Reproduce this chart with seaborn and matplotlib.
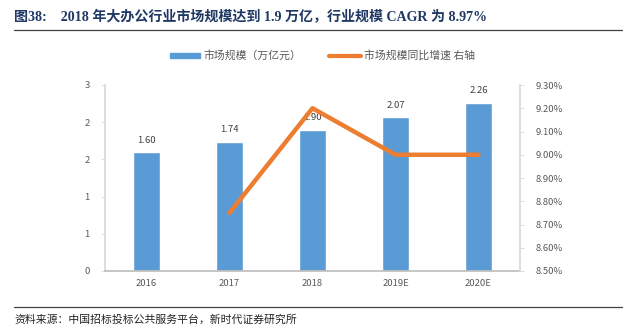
import matplotlib
matplotlib.use("Agg")
import matplotlib.pyplot as plt
import seaborn as sns
import pandas as pd
from matplotlib.ticker import FixedLocator, FuncFormatter
from matplotlib.patches import Rectangle
from matplotlib.lines import Line2D
import math

years = ["2016", "2017", "2018", "2019E", "2020E"]
market_size = [1.60, 1.74, 1.90, 2.07, 2.26]
growth_years = ["2017", "2018", "2019E", "2020E"]
growth_rate = [8.75, 9.20, 9.00, 9.00]
left_ticks = [0, 0.5, 1.0, 1.5, 2.0, 2.5]
right_ticks = [8.5, 8.6, 8.7, 8.8, 8.9, 9.0, 9.1, 9.2, 9.3]

sns.set_theme(style="white")
plt.rcParams['font.family'] = ['Noto Sans CJK SC', 'DejaVu Sans']

fig = plt.figure(figsize=(6.36, 3.31), dpi=100)
ax = fig.add_axes([105/636, 1-271/331, 415/636, (271-85)/331])

df = pd.DataFrame({"year": years, "size": market_size})
sns.barplot(data=df, x="year", y="size", color="#5B9BD5", width=0.33,
            saturation=1, ax=ax, order=years)
ax.set_xlim(-0.5, 4.5)
ax.set_ylim(0, 2.5)
ax.yaxis.set_major_locator(FixedLocator(left_ticks))
ax.yaxis.set_major_formatter(FuncFormatter(lambda v, p: str(int(math.floor(v + 0.5)))))
for i, v in enumerate(market_size):
    ax.text(i, v + 0.1, f"{v:.2f}", ha="center", va="bottom", fontsize=6.8, color="#404040")
ax.set_xlabel("")
ax.set_ylabel("")

gray = "#595959"
for s in ["top", "right"]:
    ax.spines[s].set_visible(False)
ax.spines["left"].set_color("#D9D9D9")
ax.spines["bottom"].set_color("#BFBFBF")
ax.tick_params(axis="y", labelsize=6.8, length=3, width=0.6, direction="out", left=True, pad=8,
               color="#D9D9D9", labelcolor=gray)
ax.tick_params(axis="x", labelsize=6.8, length=0, pad=6, labelcolor=gray)

ax2 = ax.twinx()
gdf = pd.DataFrame({"x": [years.index(y) for y in growth_years], "g": growth_rate})
sns.lineplot(data=gdf, x="x", y="g", color="#ED7D31", linewidth=3.2, ax=ax2)
ax2.set_ylim(8.5, 9.3)
ax2.yaxis.set_major_locator(FixedLocator(right_ticks))
ax2.yaxis.set_major_formatter(FuncFormatter(lambda v, p: f"{v:.2f}%"))
ax2.set_ylabel("")
ax2.set_xlabel("")
for s in ["top", "left", "bottom"]:
    ax2.spines[s].set_visible(False)
ax2.spines["right"].set_color("#D9D9D9")
ax2.tick_params(axis="y", labelsize=6.8, length=3, width=0.6, color="#D9D9D9", labelcolor=gray, right=True, pad=8)
ax.set_xlim(-0.5, 4.5)

# legend
fig.patches.append(Rectangle((170/636, 1-58/331), 30/636, 5/331, transform=fig.transFigure,
                             color="#5B9BD5", figure=fig))
fig.text(204/636, 1-55.5/331, "市场规模（万亿元）", fontsize=7.8, color=gray, va="center")
fig.lines.append(Line2D([329/636, 361/636], [1-55.5/331, 1-55.5/331], transform=fig.transFigure,
                        color="#ED7D31", linewidth=3, solid_capstyle="round"))
fig.text(364/636, 1-55.5/331, "市场规模同比增速 右轴", fontsize=7.8, color=gray, va="center")

# title
fig.text(14/636, 1-17/331, "图38:    2018 年大办公行业市场规模达到 1.9 万亿，行业规模 CAGR 为 8.97%",
         fontsize=10.1, fontweight="bold", color="#1F3864", va="center",
         family=["Liberation Serif", "Noto Sans CJK SC"])
fig.lines.append(Line2D([14/636, 622/636], [1-30/331, 1-30/331], transform=fig.transFigure,
                        color="#404040", linewidth=0.9))
fig.lines.append(Line2D([14/636, 622/636], [1-307/331, 1-307/331], transform=fig.transFigure,
                        color="#404040", linewidth=0.9))
fig.text(14/636, 1-320/331, "资料来源：中国招标投标公共服务平台，新时代证券研究所",
         fontsize=7.8, color="#222222", va="center")

fig.savefig("out.png", dpi=100)
